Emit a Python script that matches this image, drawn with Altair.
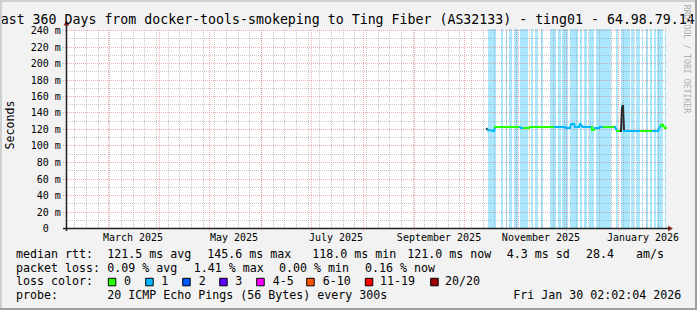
import altair as alt
import pandas as pd

# ---------------- data ----------------
TITLE = "Last 360 Days from docker-tools-smokeping to Ting Fiber (AS32133) - ting01 - 64.98.79.14"

# background bands where 1/20 packets were lost
BAND_START = ["2025-10-15T00:00:00", "2025-10-22T19:00:00", "2025-10-26T00:00:00", "2025-10-28T02:00:00",
              "2025-10-31T02:00:00", "2025-11-03T05:00:00", "2025-11-10T00:00:00", "2025-11-12T10:00:00",
              "2025-11-16T00:00:00", "2025-11-21T10:00:00", "2025-11-26T12:00:00", "2025-11-28T14:00:00",
              "2025-12-03T14:00:00", "2025-12-09T10:00:00", "2025-12-11T19:00:00", "2025-12-15T00:00:00",
              "2025-12-19T00:00:00", "2025-12-31T07:00:00", "2026-01-03T00:00:00", "2026-01-09T07:00:00",
              "2026-01-11T19:00:00", "2026-01-15T14:00:00", "2026-01-18T05:00:00", "2026-01-20T10:00:00",
              "2026-01-22T19:00:00", "2026-01-24T19:00:00", "2026-01-29T14:00:00"]
BAND_END = ["2025-10-19T19:00:00", "2025-10-24T05:00:00", "2025-10-26T10:00:00", "2025-10-29T14:00:00",
            "2025-11-02T05:00:00", "2025-11-08T00:00:00", "2025-11-11T00:00:00", "2025-11-14T14:00:00",
            "2025-11-17T05:00:00", "2025-11-25T00:00:00", "2025-11-28T00:00:00", "2025-12-02T10:00:00",
            "2025-12-08T12:00:00", "2025-12-10T14:00:00", "2025-12-13T14:00:00", "2025-12-17T19:00:00",
            "2025-12-28T00:00:00", "2026-01-01T12:00:00", "2026-01-08T10:00:00", "2026-01-10T19:00:00",
            "2026-01-14T10:00:00", "2026-01-16T14:00:00", "2026-01-19T14:00:00", "2026-01-21T14:00:00",
            "2026-01-24T00:00:00", "2026-01-28T10:00:00", "2026-01-30T02:00:00"]

# median rtt (ms) and loss colour of the segment that starts at each point
MED_T = ["2025-10-14T10:00:00", "2025-10-15T10:00:00", "2025-10-18T19:00:00", "2025-10-19T06:00:00",
         "2025-11-03T10:00:00", "2025-11-03T22:00:00", "2025-11-05T19:00:00", "2025-11-06T06:00:00",
         "2025-11-08T22:00:00", "2025-11-09T10:00:00", "2025-11-24T10:00:00", "2025-11-30T10:00:00",
         "2025-11-30T22:00:00", "2025-12-03T10:00:00", "2025-12-03T22:00:00", "2025-12-05T22:00:00",
         "2025-12-06T10:00:00", "2025-12-08T22:00:00", "2025-12-09T10:00:00", "2025-12-10T22:00:00",
         "2025-12-11T10:00:00", "2025-12-16T10:00:00", "2025-12-16T22:00:00", "2025-12-17T22:00:00",
         "2025-12-18T10:00:00", "2025-12-20T22:00:00", "2025-12-21T10:00:00", "2025-12-23T19:00:00",
         "2025-12-30T10:00:00", "2025-12-30T22:00:00", "2025-12-31T22:00:00", "2026-01-03T06:00:00",
         "2026-01-03T18:00:00", "2026-01-04T06:00:00", "2026-01-04T18:00:00", "2026-01-15T00:00:00",
         "2026-01-22T00:00:00", "2026-01-25T12:00:00", "2026-01-26T19:00:00", "2026-01-27T12:00:00",
         "2026-01-28T10:00:00", "2026-01-29T10:00:00", "2026-01-30T00:00:00"]
MED_V = [119.6, 118.4, 118.0, 122.8,
         122.8, 120.8, 120.8, 121.6,
         121.6, 122.8, 122.8, 122.8,
         121.6, 121.6, 125.7, 125.7,
         122.8, 122.8, 125.7, 124.0,
         122.8, 122.8, 119.2, 119.2,
         121.6, 121.6, 122.8, 122.8,
         122.8, 119.6, 118.0, 118.0,
         147.5, 147.5, 118.0, 118.0,
         118.0, 118.0, 124.5, 123.5,
         124.5, 121.6, 121.0]
MED_LOSS = ["s", "1", "1", "0",
            "1", "1", "0", "0",
            "0", "0", "1", "1",
            "1", "1", "1", "1",
            "1", "1", "1", "1",
            "1", "0", "0", "0",
            "1", "1", "1", "0",
            "1", "1", "0", "s",
            "1", "s", "1", "0",
            "1", "1", "0", "0",
            "0", "0", "0"]

# smoke around the spike
SMOKE_T = ["2026-01-03T12:00:00"]
SMOKE_T2 = ["2026-01-04T12:00:00"]
SMOKE_LO = [143.0]
SMOKE_HI = [153.0]

MONTH_LINES = ["2025-03-01T00:00:00", "2025-04-01T00:00:00", "2025-05-01T00:00:00", "2025-06-01T00:00:00",
               "2025-07-01T00:00:00", "2025-08-01T00:00:00", "2025-09-01T00:00:00", "2025-10-01T00:00:00",
               "2025-11-01T00:00:00", "2025-12-01T00:00:00", "2026-01-01T00:00:00"]
MONTH_LABELS = ["March 2025", "May 2025", "July 2025", "September 2025", "November 2025", "January 2026"]
MONTH_LABEL_AT = ["2025-03-16T00:00:00", "2025-05-16T00:00:00", "2025-07-16T00:00:00",
                  "2025-09-16T00:00:00", "2025-11-16T00:00:00", "2026-01-16T00:00:00"]

Y_MAJOR = [20, 40, 60, 80, 100, 120, 140, 160, 180, 200, 220, 240]
Y_MINOR = [10, 30, 50, 70, 90, 110, 130, 150, 170, 190, 210, 230]
Y_LABELS = ["20 m", "40 m", "60 m", "80 m", "100 m", "120 m", "140 m", "160 m", "180 m",
            "200 m", "220 m", "240 m"]

LOSS_KEYS = ["0", "1", "2", "3", "4-5", "6-10", "11-19", "20/20"]
LOSS_COLORS = ["#26ff00", "#00b8ff", "#0059ff", "#5e00ff", "#ff00ff", "#ff5500", "#ff0000", "#a00000"]

LEGEND_ROWS = [
    [("median rtt:", 16), ("121.5 ms avg", 107.3), ("145.6 ms max", 207.3), ("118.0 ms min", 312.3),
     ("121.0 ms now", 407.3), ("4.3 ms sd", 506.7), ("28.4", 586), ("am/s", 636)],
    [("packet loss:", 16), ("0.09 % avg", 107.3), ("1.41 % max", 193.7), ("0.00 % min", 279),
     ("0.16 % now", 365)],
    [("loss color:", 16)],
    [("probe:", 16), ("20 ICMP Echo Pings (56 Bytes) every 300s", 107.3),
     ("Fri Jan 30 02:02:04 2026", 513.3)],
]

# ---------------- layout ----------------
CW, CH = 697, 310
PL, PT = 66, 30
W, H = 600, 198
MONO = "DejaVu Sans Mono"
LEG_FS = 11.63
ROW_BASE = [257.8, 271.6, 285.4, 299.2]
BOX_X = [108.3, 145.7, 182.7, 219.7, 256.7, 306.7, 365.3, 430.7]
BOX_TXT_X = [124, 161.3, 198.7, 235.3, 272.7, 322.7, 380, 445]

XS = alt.Scale(domain=[alt.DateTime(year=2025, month=2, date=4, hours=2, minutes=2, seconds=4),
                       alt.DateTime(year=2026, month=1, date=30, hours=2, minutes=2, seconds=4)],
               round=True)
YS = alt.Scale(domain=[0, 240], nice=False, zero=True, round=True)
ONE = alt.Data(values=[{"k": 0}])

MED_COLOR_DOM = ["0", "1", "s"]
MED_COLOR_RNG = [LOSS_COLORS[0], LOSS_COLORS[1], "#2a2a2a"]

MINOR_GRID = dict(color="#8f8f8f", opacity=0.5, strokeWidth=1, strokeDash=[1, 1])
MAJOR_GRID = dict(color="#de4f4f", opacity=0.45, strokeWidth=1, strokeDash=[1, 1])


def txt(s, x, y, size=LEG_FS, align="left", baseline="alphabetic", angle=0, color="#000000"):
    return alt.Chart(ONE).mark_text(text=s, font=MONO, fontSize=size, align=align,
                                    baseline=baseline, angle=angle, color=color).encode(
        x=alt.value(x - PL), y=alt.value(y - PT))


def rule(x, y, x2, y2, color, width=1.0):
    return alt.Chart(ONE).mark_rule(color=color, strokeWidth=width).encode(
        x=alt.value(x - PL), y=alt.value(y - PT), x2=alt.value(x2 - PL), y2=alt.value(y2 - PT))


bands_df = pd.DataFrame({"s": BAND_START, "e": BAND_END})
bands = alt.Chart(bands_df).mark_rect(color="#00b8ff", opacity=0.33).encode(
    x=alt.X("s:T", scale=XS, axis=None), x2="e:T", y=alt.value(-1), y2=alt.value(H))

weeks_df = pd.DataFrame({"t": [d.strftime("%Y-%m-%dT00:00:00")
                               for d in pd.date_range("2025-02-09", "2026-01-25", freq="7D")]})
grid_wk = alt.Chart(weeks_df).mark_rule(xOffset=0.5, **MINOR_GRID).encode(
    x=alt.X("t:T", scale=XS, axis=None), y=alt.value(0), y2=alt.value(H))
grid_ymin = alt.Chart(pd.DataFrame({"v": Y_MINOR})).mark_rule(yOffset=0.5, **MINOR_GRID).encode(
    y=alt.Y("v:Q", scale=YS, axis=None), x=alt.value(0), x2=alt.value(W))

months_df = pd.DataFrame({"t": MONTH_LINES})
grid_mo = alt.Chart(months_df).mark_rule(xOffset=0.5, **MAJOR_GRID).encode(
    x=alt.X("t:T", scale=XS, axis=None), y=alt.value(0), y2=alt.value(H + 3))
grid_ymaj = alt.Chart(pd.DataFrame({"v": Y_MAJOR})).mark_rule(yOffset=0.5, **MAJOR_GRID).encode(
    y=alt.Y("v:Q", scale=YS, axis=None), x=alt.value(-3), x2=alt.value(W))

smoke = alt.Chart(pd.DataFrame({"t": SMOKE_T, "t2": SMOKE_T2, "lo": SMOKE_LO, "hi": SMOKE_HI})).mark_rect(
    color="#bdbdbd").encode(
    x=alt.X("t:T", scale=XS, axis=None), x2="t2:T",
    y=alt.Y("lo:Q", scale=YS, axis=None), y2="hi:Q")

med = pd.DataFrame({"t": MED_T, "v": MED_V, "c": MED_LOSS})
med["t2"] = med["t"].shift(-1)
med["v2"] = med["v"].shift(-1)
med = med.dropna()
median = alt.Chart(med).mark_rule(strokeWidth=2, strokeCap="square").encode(
    x=alt.X("t:T", scale=XS, axis=None), x2="t2:T",
    y=alt.Y("v:Q", scale=YS, axis=None), y2="v2:Q",
    color=alt.Color("c:N", scale=alt.Scale(domain=MED_COLOR_DOM, range=MED_COLOR_RNG), legend=None))

ylab = alt.Chart(pd.DataFrame({"v": Y_MAJOR, "lab": Y_LABELS})).mark_text(
    align="right", baseline="alphabetic", dy=3.5, font=MONO, fontSize=10, color="#000000").encode(
    y=alt.Y("v:Q", scale=YS, axis=None), x=alt.value(-5.2), text="lab:N")
ylab0 = alt.Chart(pd.DataFrame({"v": [0], "lab": ["0"]})).mark_text(
    align="right", baseline="alphabetic", dy=3.5, font=MONO, fontSize=10, color="#000000").encode(
    y=alt.Y("v:Q", scale=YS, axis=None), x=alt.value(-17.2), text="lab:N")

mlab = alt.Chart(pd.DataFrame({"t": MONTH_LABEL_AT, "lab": MONTH_LABELS})).mark_text(
    align="center", baseline="alphabetic", font=MONO, fontSize=10, color="#000000").encode(
    x=alt.X("t:T", scale=XS, axis=None), y=alt.value(240.5 - PT), text="lab:N")

layers = [bands, grid_wk, grid_ymin, grid_mo, grid_ymaj]

# axes and arrows
layers.append(rule(66.5, 25, 66.5, 231, "#1f1f1f", 1.5))
layers.append(rule(63, 228.5, 670, 228.5, "#1f1f1f", 1.5))
layers.append(alt.Chart(ONE).mark_point(shape="triangle-up", filled=True, color="#801f1f", size=32, opacity=1).encode(
    x=alt.value(66.5 - PL), y=alt.value(23 - PT)))
layers.append(alt.Chart(ONE).mark_point(shape="triangle-right", filled=True, color="#801f1f", size=32, opacity=1).encode(
    x=alt.value(670.5 - PL), y=alt.value(228.5 - PT)))

layers += [smoke, median, ylab, ylab0, mlab]

# title, axis title, watermark
layers.append(txt(TITLE, -7.3, 23.5, size=13.25))
layers.append(txt("Seconds", 14, 125, align="center", baseline="alphabetic", angle=270))
layers.append(txt("RRDTOOL / TOBI OETIKER", 683.5, 59, size=8.2, align="center", baseline="alphabetic",
                  angle=90, color="#b0b0b0"))

# legend text
for row, base in zip(LEGEND_ROWS, ROW_BASE):
    for s, x in row:
        layers.append(txt(s, x, base))

# loss colour boxes
for key, col, bx, tx in zip(LOSS_KEYS, LOSS_COLORS, BOX_X, BOX_TXT_X):
    layers.append(alt.Chart(ONE).mark_rect(color=col, stroke="#000000", strokeWidth=1).encode(
        x=alt.value(bx - PL), x2=alt.value(bx + 7.5 - PL),
        y=alt.value(278.3 - PT), y2=alt.value(285.8 - PT)))
    layers.append(txt(key, tx, ROW_BASE[2]))

# image border shading
layers.append(rule(0, 1, 697, 1, "#cfcfcf", 2))
layers.append(rule(1, 0, 1, 310, "#cfcfcf", 2))
layers.append(rule(0, 309, 697, 309, "#9e9e9e", 2))
layers.append(rule(696, 0, 696, 310, "#9e9e9e", 2))

chart = alt.layer(*layers).properties(
    width=W, height=H,
    autosize=alt.AutoSizeParams(type="none"),
    padding={"left": PL, "top": PT, "right": CW - PL - W, "bottom": CH - PT - H},
    background="#f2f2f2",
).configure_view(fill="#ffffff", stroke=None)

chart.save("out.html", embed_options={"renderer": "svg", "actions": False})
